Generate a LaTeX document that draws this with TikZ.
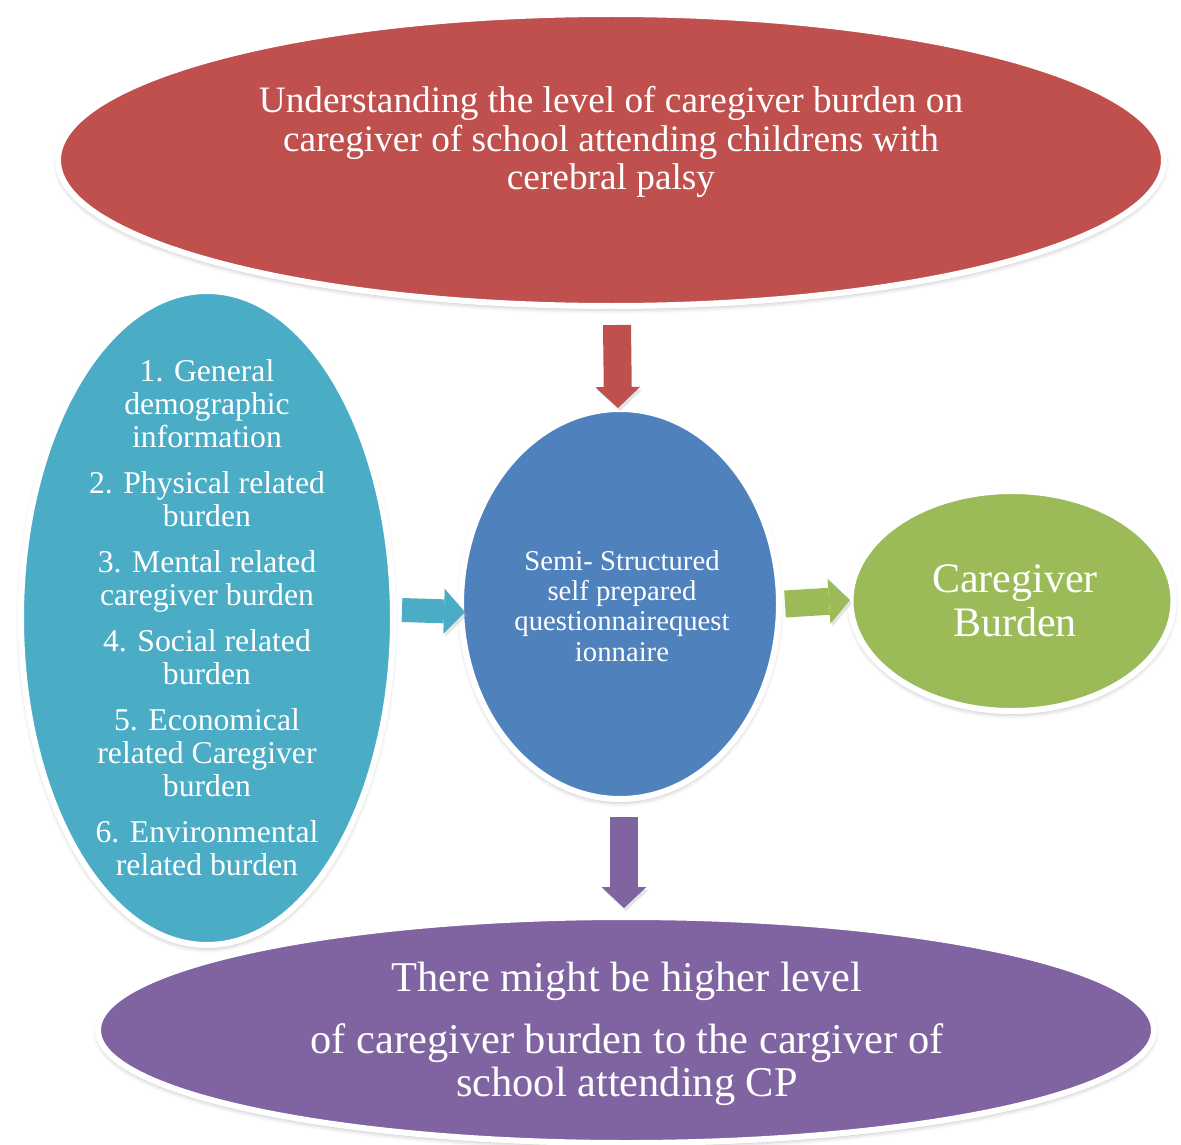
\documentclass[tikz,border=0pt]{standalone}
\usepackage{fontspec}
\setmainfont{Liberation Serif}
\usetikzlibrary{shapes.geometric,arrows.meta,shadows.blur}

\definecolor{cRed}{HTML}{C0504D}
\definecolor{cTeal}{HTML}{4BACC6}
\definecolor{cBlue}{HTML}{4F81BD}
\definecolor{cGreen}{HTML}{9BBB59}
\definecolor{cPurple}{HTML}{8064A2}

\begin{document}
\begin{tikzpicture}[x=1pt,y=-1pt,
  bubble/.style={ellipse, draw=white, line width=6pt, inner sep=0pt,
    blur shadow={shadow xshift=0pt, shadow yshift=-3pt,
                 shadow blur radius=5pt, shadow opacity=30}},
  caption/.style={text=white, align=center, inner sep=0pt},
  flow/.style={line width=28pt,
    -{Triangle[length=21pt,width=45pt,line width=0pt]},
    preaction={draw=black!30, opacity=0.35,
               transform canvas={shift={(2pt,-3pt)}}}},
]
\useasboundingbox (0,0) rectangle (1181,1145);

% the five bubbles
\node[bubble, fill=cRed, minimum width=1106pt, minimum height=292pt] (aim) at (611,160) {};
\node[bubble, fill=cTeal, minimum width=372pt, minimum height=654pt] (items) at (207,618) {};
\node[bubble, fill=cPurple, minimum width=1056pt, minimum height=226pt] (result) at (626,1030) {};
\node[bubble, fill=cBlue, minimum width=318pt, minimum height=390pt] (tool) at (620,604) {};
\node[bubble, fill=cGreen, minimum width=323pt, minimum height=220pt] (outcome) at (1012,601) {};

% texts
\node[caption, font=\fontsize{37.3}{38.5}\selectfont] (aimtext) at (611,142)
  {Understanding the level of caregiver burden on\\
   caregiver of school attending childrens with\\
   cerebral palsy};
\node[caption, font=\fontsize{31.7}{33}\selectfont] (itemstext) at (207,618)
  {1. General\\ demographic\\ information\\[13pt]
   2. Physical related\\ burden\\[13pt]
   3. Mental related\\ caregiver burden\\[13pt]
   4. Social related\\ burden\\[13pt]
   5. Economical\\ related Caregiver\\ burden\\[13pt]
   6. Environmental\\ related burden};
\node[caption, font=\fontsize{28.7}{30.3}\selectfont] (tooltext) at (622,606)
  {Semi- Structured\\ self prepared\\ questionnairequest\\ ionnaire};
\node[caption, font=\fontsize{42}{44}\selectfont] (outcometext) at (1015,601)
  {Caregiver\\ Burden};
\node[caption, font=\fontsize{42.4}{43}\selectfont] (resulttext) at (627,1033.5)
  {There might be higher level\\[19pt]
   of caregiver burden to the cargiver of\\
   school attending CP};

% block arrows
\draw[flow, cRed] ([xshift=6pt,yshift=-16pt]aim.south) -- ([xshift=-2pt,yshift=-2pt]tool.north);
\draw[flow, cTeal, line width=24pt] ([xshift=6pt,yshift=8pt]items.east) -- ([xshift=7pt,yshift=-8pt]tool.west);
\draw[flow, cGreen, line width=27pt] ([xshift=3pt]tool.east) -- ([xshift=2.5pt,yshift=1pt]outcome.west);
\draw[flow, cPurple] ([xshift=4pt,yshift=-15pt]tool.south) -- ([xshift=-2pt,yshift=6pt]result.north);
\end{tikzpicture}
\end{document}
